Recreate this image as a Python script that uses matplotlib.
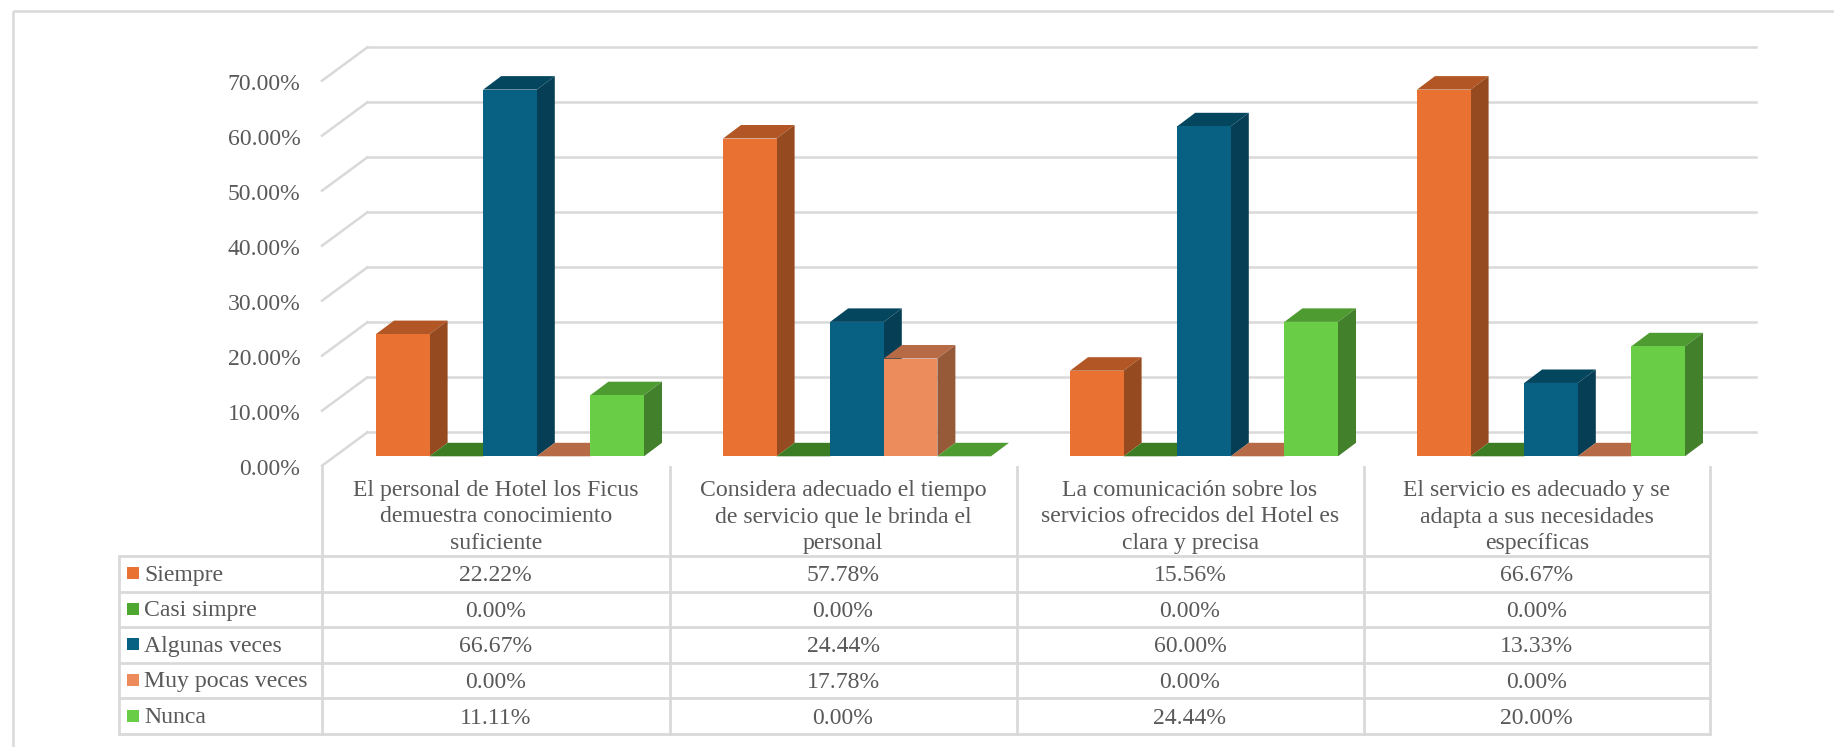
#!/usr/bin/env python3
# -*- coding: utf-8 -*-
import matplotlib
matplotlib.use("Agg")
import matplotlib.pyplot as plt
from matplotlib.patches import Polygon, Rectangle
from matplotlib.transforms import ScaledTranslation

questions = [
    "El personal de Hotel los Ficus\ndemuestra conocimiento\nsuficiente",
    "Considera adecuado el tiempo\nde servicio que le brinda el\npersonal",
    "La comunicación sobre los\nservicios ofrecidos del Hotel es\nclara y precisa",
    "El servicio es adecuado y se\nadapta a sus necesidades\nespecíficas",
]
series_names = ["Siempre", "Casi simpre", "Algunas veces", "Muy pocas veces", "Nunca"]
siempre = [22.22, 57.78, 15.56, 66.67]
casi_simpre = [0.0, 0.0, 0.0, 0.0]
algunas_veces = [66.67, 24.44, 60.00, 13.33]
muy_pocas = [0.0, 17.78, 0.0, 0.0]
nunca = [11.11, 0.0, 24.44, 20.00]
y_ticks = [0, 10, 20, 30, 40, 50, 60, 70]

series = [siempre, casi_simpre, algunas_veces, muy_pocas, nunca]
# front, side, top
colors = [
    ("#E97132", "#964A1F", "#B35625"),
    ("#4EA72E", "#3C7D23", "#3C7D23"),
    ("#086082", "#053E55", "#05465F"),
    ("#EC8C5C", "#975A39", "#B66A45"),
    ("#69CD45", "#42802B", "#4E9B31"),
]

W, H = 1834, 747
GRID = "#D9D9D9"
TXT = "#595959"
FS = 17.1
plt.rcParams["font.family"] = ["Liberation Serif", "DejaVu Serif"]

fig = plt.figure(figsize=(W / 100, H / 100), dpi=100)

# pixel overlay for frame and table
px = fig.add_axes([0, 0, 1, 1], zorder=0)
px.set_xlim(0, W)
px.set_ylim(H, 0)
px.axis("off")

# bars axes, front plane of the bars
left, right, base, top = 322, 1710, 456.3, 71.3
ax = fig.add_axes([left / W, 1 - base / H, (right - left) / W, (base - top) / H], zorder=1)
ax.set_xlim(0, 4)
ax.set_ylim(0, 70)
ax.patch.set_visible(False)
for s in ax.spines.values():
    s.set_visible(False)
ax.set_xticks([])

sx = (right - left) / 4.0  # pixels per group
sy = (base - top) / 70.0  # pixels per percent
depth_x = 18 / sx
depth_y = 13.5 / sy
bar_w = 53.6 / sx
first = 54 / sx

# walls
back_dx, back_dy = 45.4 / sx, 24 / sy
front_dy = 9.4 / sy
right_end = (1756.4 - left) / sx
for v in y_ticks:
    ax.plot([back_dx, right_end], [v + back_dy, v + back_dy], color=GRID, lw=1.8, clip_on=False, zorder=1)
    ax.plot([0, back_dx], [v - front_dy, v + back_dy], color=GRID, lw=1.8, clip_on=False, zorder=1)

ax.set_yticks(y_ticks)
ax.set_yticklabels(["%.2f%%" % v for v in y_ticks], fontsize=FS, color=TXT)
ax.tick_params(axis="y", length=0, pad=15.5)
shift = ScaledTranslation(0, -10.6 / 100, fig.dpi_scale_trans)
for lab in ax.get_yticklabels():
    lab.set_transform(lab.get_transform() + shift)

# faux 3d bars, drawn group by group from left to right
for g in range(len(questions)):
    for i, vals in enumerate(series):
        v = vals[g]
        x0 = g + first + i * bar_w
        x1 = x0 + bar_w
        front, side, tp = colors[i]
        z = 3 + g * 5 + i
        ax.add_patch(Polygon([(x0, v), (x1, v), (x1 + depth_x, v + depth_y), (x0 + depth_x, v + depth_y)],
                             facecolor=tp, edgecolor="none", clip_on=False, zorder=z))
        if v > 0:
            ax.add_patch(Polygon([(x1, 0), (x1 + depth_x, depth_y), (x1 + depth_x, v + depth_y), (x1, v)],
                                 facecolor=side, edgecolor="none", clip_on=False, zorder=z))
            ax.bar(x0, v, bar_w, align="edge", color=front, zorder=z + 0.5, clip_on=False)

# outer frame
px.add_patch(Rectangle((13, 10.7), 1850, 800, fill=False, edgecolor=GRID, lw=1.8, clip_on=True))

# table
col_x = [119.2, 322, 669.5, 1016.5, 1363.5, 1710]
row_y = [556, 591.7, 627, 662.7, 698.3, 734]
for y in row_y:
    px.plot([col_x[0], col_x[-1]], [y, y], color=GRID, lw=2, solid_capstyle="butt")
px.plot([col_x[0], col_x[0]], [row_y[0], row_y[-1]], color=GRID, lw=2)
for x in col_x[1:]:
    px.plot([x, x], [467, row_y[-1]], color=GRID, lw=2)

for c, q in enumerate(questions):
    xc = (col_x[c + 1] + col_x[c + 2]) / 2
    px.text(xc, 517, q, ha="center", va="center", fontsize=FS, color=TXT, linespacing=1.33)
for r, name in enumerate(series_names):
    yc = (row_y[r] + row_y[r + 1]) / 2
    px.add_patch(Rectangle((127, yc - 6.5), 12, 12, facecolor=colors[r][0], edgecolor="none"))
    px.text(144, yc + 1.5, name, ha="left", va="center", fontsize=FS, color=TXT)
    for c in range(len(questions)):
        xc = (col_x[c + 1] + col_x[c + 2]) / 2
        px.text(xc, yc + 2, "%.2f%%" % series[r][c], ha="center", va="center", fontsize=FS, color=TXT)

fig.savefig("out.png", dpi=100)
